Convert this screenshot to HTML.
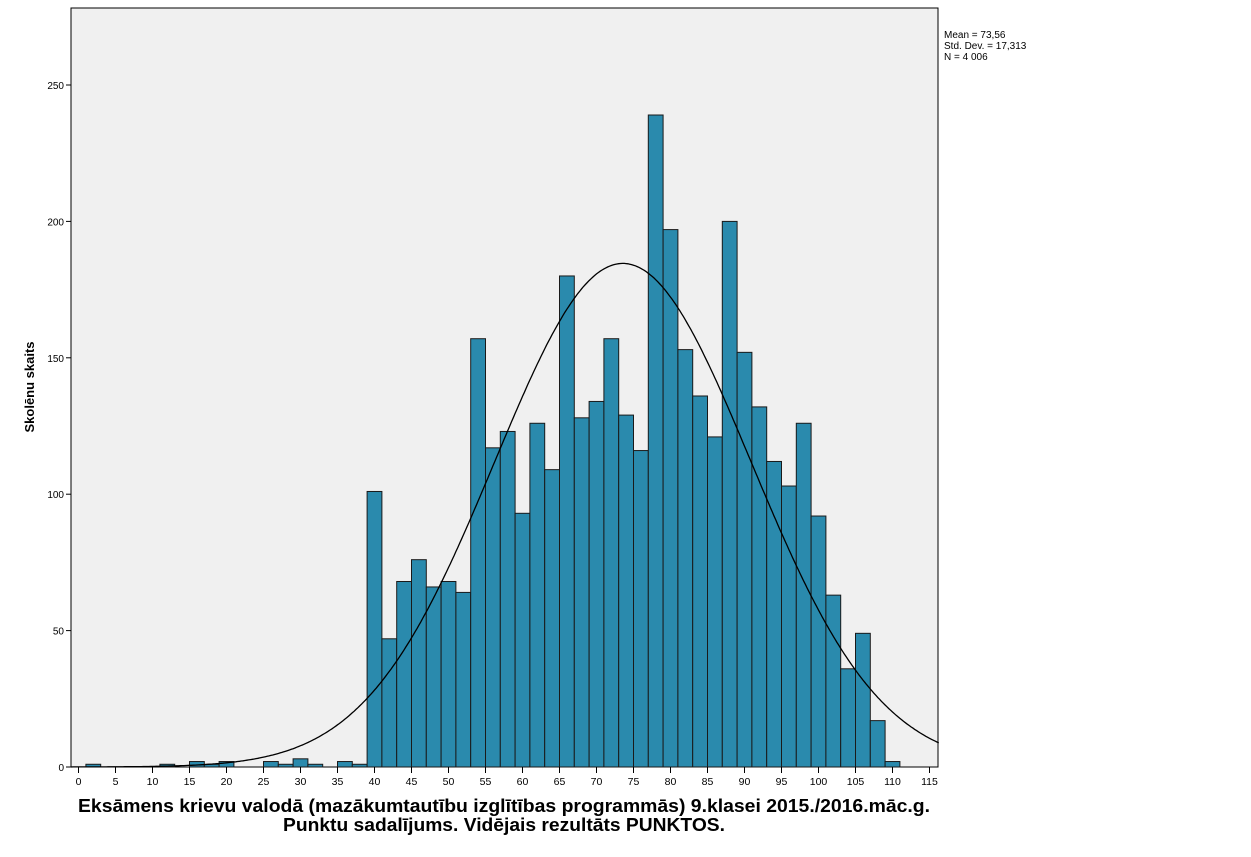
<!DOCTYPE html>
<html><head><meta charset="utf-8"><style>
body{margin:0;background:#fff;}
svg text{font-family:"Liberation Sans",Arial,sans-serif;}
</style></head><body>
<svg id="s" width="1251" height="852" xmlns="http://www.w3.org/2000/svg">
<rect x="71" y="8" width="867" height="759" fill="#f0f0f0" stroke="#000" stroke-width="1"/>
<g id="bars"></g>
<path id="curve" fill="none" stroke="#000" stroke-width="1.3"/>
<g id="ax"></g>
<text x="944" y="38" font-size="10">Mean = 73,56</text>
<text x="944" y="49" font-size="10">Std. Dev. = 17,313</text>
<text x="944" y="60" font-size="10">N = 4 006</text>
<text x="78" y="812" font-size="18" font-weight="bold" textLength="852" lengthAdjust="spacingAndGlyphs">Eksāmens krievu valodā (mazākumtautību izglītības programmās) 9.klasei 2015./2016.māc.g.</text>
<text x="283" y="831" font-size="18" font-weight="bold" textLength="442" lengthAdjust="spacingAndGlyphs">Punktu sadalījums. Vidējais rezultāts PUNKTOS.</text>
<text transform="translate(34,387) rotate(-90)" font-size="13" font-weight="bold" text-anchor="middle">Skolēnu skaits</text>
</svg>
<script>
const X=v=>78.5+7.4*v, Y=c=>767-2.728*c;
const data={1:1,11:1,15:2,17:1,19:2,25:2,27:1,29:3,31:1,35:2,37:1,39:101,41:47,43:68,45:76,47:66,49:68,51:64,53:157,55:117,57:123,59:93,61:126,63:109,65:180,67:128,69:134,71:157,73:129,75:116,77:239,79:197,81:153,83:136,85:121,87:200,89:152,91:132,93:112,95:103,97:126,99:92,101:63,103:36,105:49,107:17,109:2};
let h="";
for(const k in data){const v=+k,c=data[k];h+=`<rect x="${X(v)}" y="${Y(c)}" width="14.8" height="${767-Y(c)}" fill="#2a8aad" stroke="#1a1a1a" stroke-width="1"/>`;}
document.getElementById("bars").innerHTML=h;
let d="";for(let v=-1;v<=116.3;v+=0.25){const c=184.6*Math.exp(-0.5*((v-73.56)/17.313)**2);const x=Math.max(71,X(v));d+=(d?"L":"M")+x.toFixed(1)+","+Y(c).toFixed(1);}
document.getElementById("curve").setAttribute("d",d);
let a="";
for(let t=0;t<=250;t+=50){a+=`<line x1="66" x2="71" y1="${Y(t)}" y2="${Y(t)}" stroke="#000"/><text x="64" y="${Y(t)+4}" font-size="10" text-anchor="end">${t}</text>`;}
for(let t=0;t<=115;t+=5){a+=`<line x1="${X(t)}" x2="${X(t)}" y1="767" y2="773" stroke="#000"/><text x="${X(t)}" y="785" font-size="10.5" text-anchor="middle">${t}</text>`;}
document.getElementById("ax").innerHTML=a;
</script>
</body></html>
